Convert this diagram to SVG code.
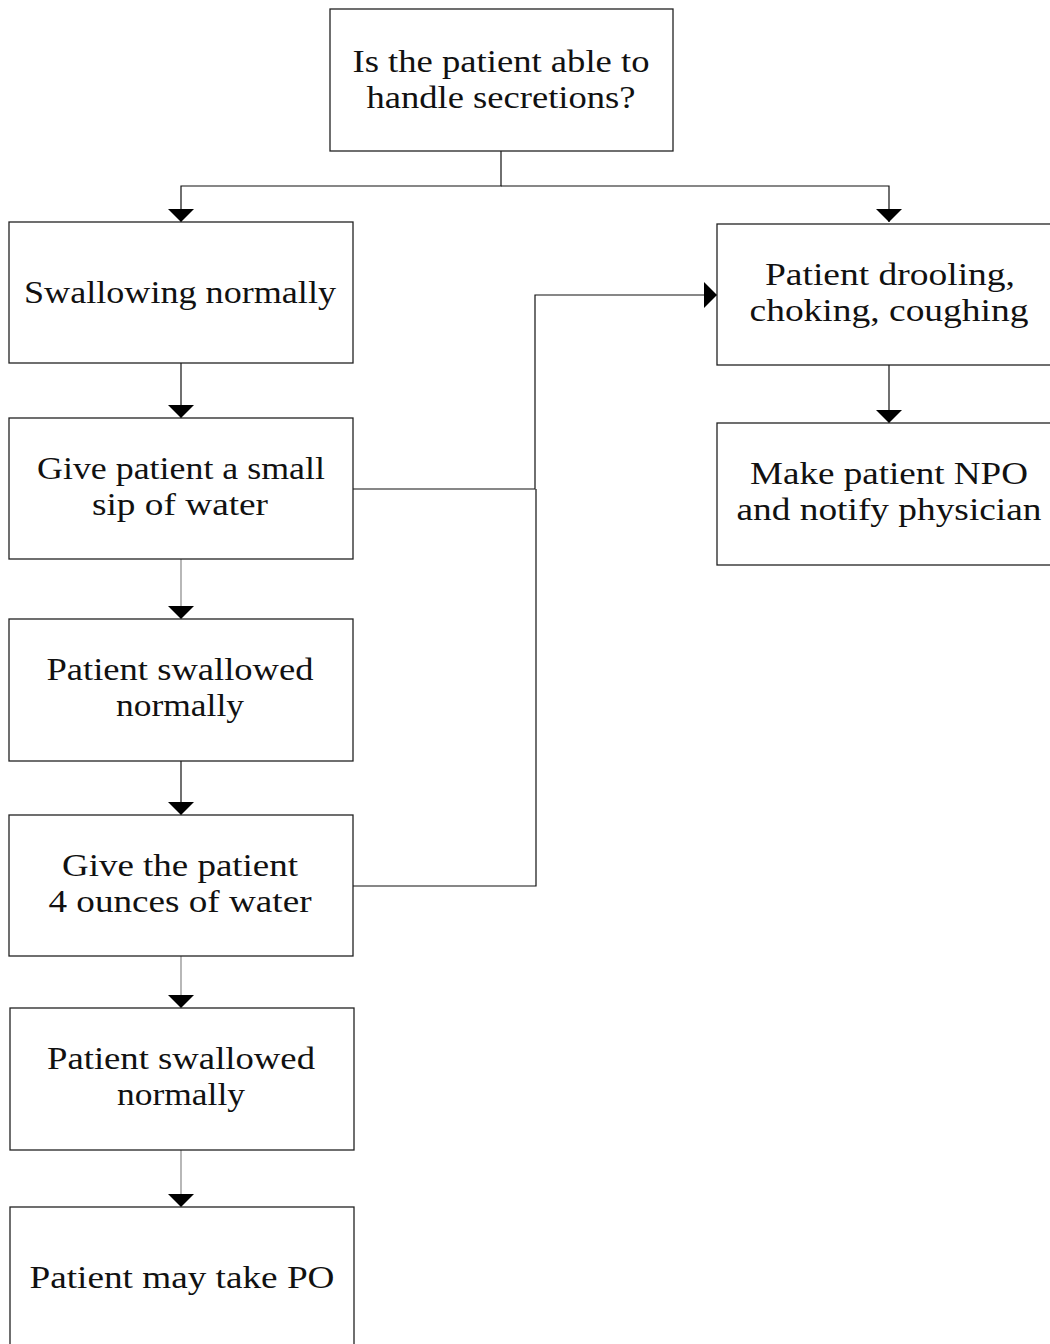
<svg xmlns="http://www.w3.org/2000/svg" width="1050" height="1344" viewBox="0 0 1050 1344">
<style>
.box{fill:#fff;stroke:#222;stroke-width:1.3}
.t{font-family:"Liberation Serif","DejaVu Serif",serif;font-size:31px;fill:#111;text-anchor:middle}
.c{fill:none;stroke:#111;stroke-width:1.2}
.g{fill:none;stroke:#888;stroke-width:1.2}
</style>
<defs>
<marker id="ah" markerUnits="userSpaceOnUse" viewBox="0 0 13 26" markerWidth="13" markerHeight="26" refX="13" refY="13" orient="auto">
<path d="M0,0 L13,13 L0,26 z" fill="#000"/>
</marker>
</defs>
<rect width="1050" height="1344" fill="#fff"/>
<g id="connectors">
<path class="c" d="M501,151 V186 H181 V222" marker-end="url(#ah)"/>
<path class="c" d="M501,186 H889 V222" marker-end="url(#ah)"/>
<path class="c" d="M181,363 V418" marker-end="url(#ah)"/>
<path class="g" d="M181,559 V619" marker-end="url(#ah)"/>
<path class="c" d="M181,761 V815" marker-end="url(#ah)"/>
<path class="g" d="M181,956 V1008" marker-end="url(#ah)"/>
<path class="g" d="M181,1150 V1207" marker-end="url(#ah)"/>
<path class="c" d="M889,365 V423" marker-end="url(#ah)"/>
<path class="c" d="M353,489 H535 V295 H717" marker-end="url(#ah)"/>
<path class="c" d="M353,886 H536 V489"/>
</g>
<g id="n1"><rect class="box" x="330" y="9" width="343" height="142"/>
<text class="t" x="501" y="72" textLength="297" lengthAdjust="spacingAndGlyphs">Is the patient able to</text>
<text class="t" x="501" y="108" textLength="269" lengthAdjust="spacingAndGlyphs">handle secretions?</text></g>
<g id="n2"><rect class="box" x="9" y="222" width="344" height="141"/>
<text class="t" x="180" y="303" textLength="312" lengthAdjust="spacingAndGlyphs">Swallowing normally</text></g>
<g id="n3"><rect class="box" x="717" y="224" width="345" height="141"/>
<text class="t" x="890" y="285" textLength="250" lengthAdjust="spacingAndGlyphs">Patient drooling,</text>
<text class="t" x="889" y="321" textLength="279" lengthAdjust="spacingAndGlyphs">choking, coughing</text></g>
<g id="n4"><rect class="box" x="717" y="423" width="345" height="142"/>
<text class="t" x="889" y="484" textLength="278" lengthAdjust="spacingAndGlyphs">Make patient NPO</text>
<text class="t" x="889" y="520" textLength="305" lengthAdjust="spacingAndGlyphs">and notify physician</text></g>
<g id="n5"><rect class="box" x="9" y="418" width="344" height="141"/>
<text class="t" x="181" y="479" textLength="288" lengthAdjust="spacingAndGlyphs">Give patient a small</text>
<text class="t" x="180" y="515" textLength="176" lengthAdjust="spacingAndGlyphs">sip of water</text></g>
<g id="n6"><rect class="box" x="9" y="619" width="344" height="142"/>
<text class="t" x="180" y="680" textLength="267" lengthAdjust="spacingAndGlyphs">Patient swallowed</text>
<text class="t" x="180" y="716" textLength="128" lengthAdjust="spacingAndGlyphs">normally</text></g>
<g id="n7"><rect class="box" x="9" y="815" width="344" height="141"/>
<text class="t" x="180" y="876" textLength="236" lengthAdjust="spacingAndGlyphs">Give the patient</text>
<text class="t" x="180" y="912" textLength="263" lengthAdjust="spacingAndGlyphs">4 ounces of water</text></g>
<g id="n8"><rect class="box" x="10" y="1008" width="344" height="142"/>
<text class="t" x="181" y="1069" textLength="268" lengthAdjust="spacingAndGlyphs">Patient swallowed</text>
<text class="t" x="181" y="1105" textLength="128" lengthAdjust="spacingAndGlyphs">normally</text></g>
<g id="n9"><rect class="box" x="10" y="1207" width="344" height="150"/>
<text class="t" x="182" y="1288" textLength="305" lengthAdjust="spacingAndGlyphs">Patient may take PO</text></g>
</svg>
